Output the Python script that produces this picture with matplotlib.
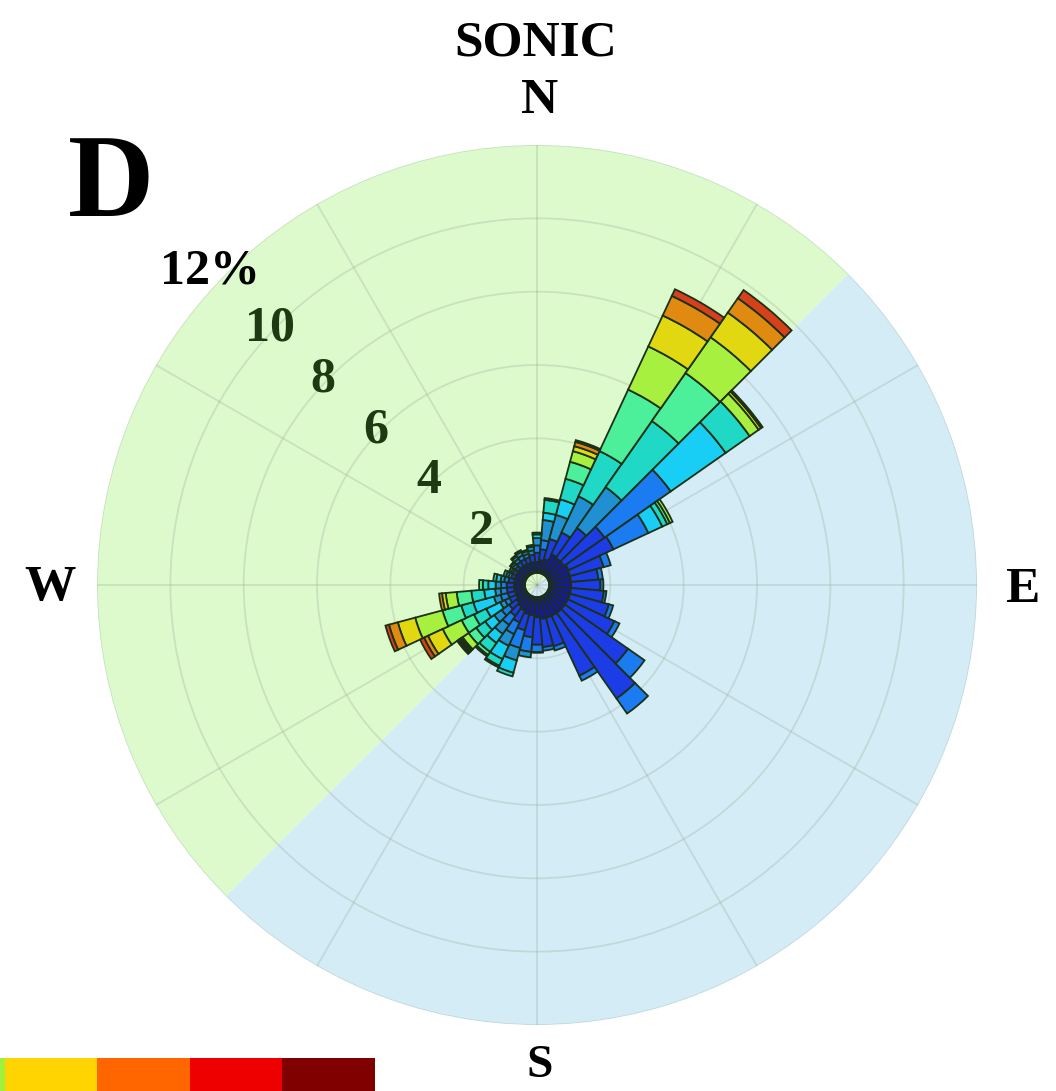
import numpy as np
import matplotlib.pyplot as plt

plt.rcParams['font.family'] = ['Liberation Serif', 'DejaVu Serif']
plt.rcParams['font.weight'] = 'bold'

# wind direction bins (deg, centre of each 10 deg sector)
directions = np.arange(0, 360, 10)

# speed classes, slowest first
class_colors = ['#1616a8', '#1c3ce6', '#1a7cf0', '#2090d2', '#18cef4', '#20d8c6',
                '#4cf09a', '#a8f040', '#e2d812', '#e08a12', '#d6401a', '#801010']

# frequency (%) per direction, one entry per speed class
freq = [
    [0.30, 0.25, 0.20, 0.20, 0.10, 0.05],                                  # 0
    [0.35, 0.30, 0.25, 0.55, 0.20, 0.35, 0.05],                            # 10
    [0.40, 0.57, 0.00, 0.68, 0.44, 0.58, 0.48, 0.30, 0.14, 0.12, 0.05],    # 20
    [0.60, 0.65, 0.00, 1.09, 0.00, 1.36, 1.85, 1.30, 0.93, 0.59, 0.20],    # 30
    [0.57, 1.00, 0.00, 1.36, 0.00, 2.20, 1.60, 1.19, 0.82, 0.48, 0.27],    # 40
    [0.57, 1.35, 2.20, 0.00, 1.83, 0.80, 0.00, 0.30, 0.08, 0.05],          # 50
    [0.62, 1.35, 1.05, 0.00, 0.42, 0.15, 0.08, 0.08],                      # 60
    [0.60, 0.95, 0.20],                                                    # 70
    [0.60, 0.75, 0.12],                                                    # 80
    [0.60, 0.80, 0.08],                                                    # 90
    [0.60, 0.90, 0.07],                                                    # 100
    [0.60, 1.10, 0.12],                                                    # 110
    [0.60, 1.40, 0.15],                                                    # 120
    [0.60, 2.10, 0.55],                                                    # 130
    [0.60, 2.85, 0.50],                                                    # 140
    [0.60, 1.80, 0.15],                                                    # 150
    [0.60, 0.80, 0.12],                                                    # 160
    [0.60, 0.77, 0.10],                                                    # 170
    [0.55, 0.75, 0.20, 0.02],                                              # 180
    [0.50, 0.60, 0.40, 0.15],                                              # 190
    [0.50, 0.45, 0.50, 0.35, 0.35, 0.10],                                  # 200
    [0.45, 0.35, 0.35, 0.35, 0.40, 0.20, 0.05],                            # 210
    [0.40, 0.30, 0.30, 0.30, 0.30, 0.30, 0.10, 0.05],                      # 220
    [0.35, 0.25, 0.25, 0.25, 0.30, 0.30, 0.25, 0.20, 0.05, 0.04, 0.04, 0.05],  # 230
    [0.30, 0.20, 0.14, 0.14, 0.42, 0.37, 0.37, 0.57, 0.44, 0.12, 0.12],    # 240
    [0.30, 0.20, 0.20, 0.19, 0.58, 0.34, 0.53, 0.77, 0.49, 0.25, 0.10],    # 250
    [0.30, 0.20, 0.17, 0.15, 0.30, 0.35, 0.40, 0.30, 0.10, 0.08],          # 260
    [0.30, 0.20, 0.15, 0.15, 0.20, 0.15, 0.10],                            # 270
    [0.30, 0.15, 0.12, 0.10, 0.12, 0.08],                                  # 280
    [0.30, 0.10, 0.08, 0.07, 0.07],                                        # 290
    [0.30, 0.10, 0.06, 0.06],                                              # 300
    [0.30, 0.10, 0.08, 0.06, 0.03],                                        # 310
    [0.30, 0.15, 0.10, 0.08, 0.04],                                        # 320
    [0.30, 0.15, 0.12, 0.10, 0.05],                                        # 330
    [0.30, 0.15, 0.10, 0.08, 0.04],                                        # 340
    [0.30, 0.20, 0.12, 0.10, 0.05],                                        # 350
]

ring_values = [2, 4, 6, 8, 10, 12]
ring_labels = ['2', '4', '6', '8', '10', '12%']

# colour key along the bottom edge (only its upper end is on the page)
cbar_colors = ['#a0f040', '#ffd400', '#ff6600', '#ee0000', '#800000']

hole = 0.33
rmax = 12

fig = plt.figure(figsize=(10.56, 10.91), dpi=100)
ax = fig.add_axes([0.0919, 0.0605, 0.8333, 0.8066], projection='polar')
ax.set_theta_zero_location('N')
ax.set_theta_direction(-1)
ax.set_ylim(0, rmax)
ax.patch.set_visible(False)
ax.spines['polar'].set_visible(False)

# shaded half-planes: land side / sea side
ax.bar(np.deg2rad(135), rmax, width=np.pi, color='#d4ecf6', linewidth=0, zorder=0)
ax.bar(np.deg2rad(315), rmax, width=np.pi, color='#dcfacc', linewidth=0, zorder=0)

ax.set_rgrids(ring_values, labels=[])
ax.set_thetagrids(range(0, 360, 30), labels=[])
ax.grid(color='#98ac98', alpha=0.3, linewidth=1.3)
ax.tick_params(length=0)

F = np.zeros((len(directions), len(class_colors)))
for i, row in enumerate(freq):
    F[i, :len(row)] = row

theta = np.deg2rad(directions)
width = np.deg2rad(10)
bottom = np.full(len(directions), hole)
for k, col in enumerate(class_colors):
    m = F[:, k] > 0
    if m.any():
        ax.bar(theta[m], F[m, k], width=width, bottom=bottom[m], color=col,
               edgecolor='#1c3016', linewidth=1.3, zorder=2)
    bottom += F[:, k]

for v, lab in zip(ring_values, ring_labels):
    r = v + 0.1 if v < 12 else 12.34
    ax.text(np.deg2rad(313.8), r, lab, ha='center', va='center', fontsize=36,
            fontweight='bold', color='black' if v == 12 else '#1e3a12',
            clip_on=False, zorder=5)

W, H = 1056, 1091


def ftext(x, y, s, **kw):
    fig.text(x / W, 1 - y / H, s, ha='center', va='center', fontweight='bold', **kw)


ftext(536, 43, 'SONIC', fontsize=37)
ftext(540, 101, 'N', fontsize=37)
ftext(50, 588, 'W', fontsize=37)
ftext(1022, 590, 'E', fontsize=37)
ftext(540, 1066, 'S', fontsize=34)
ftext(111, 188, 'D', fontsize=86)

cax = fig.add_axes([0, 0, 375 / W, 33 / H])
cax.bar(np.arange(-1, len(cbar_colors) - 1), 1, width=1, align='edge',
        color=cbar_colors, linewidth=0)
cax.set_xlim(-0.054, 4.0)
cax.set_ylim(0, 1)
cax.axis('off')

fig.savefig('out.png', dpi=100)
